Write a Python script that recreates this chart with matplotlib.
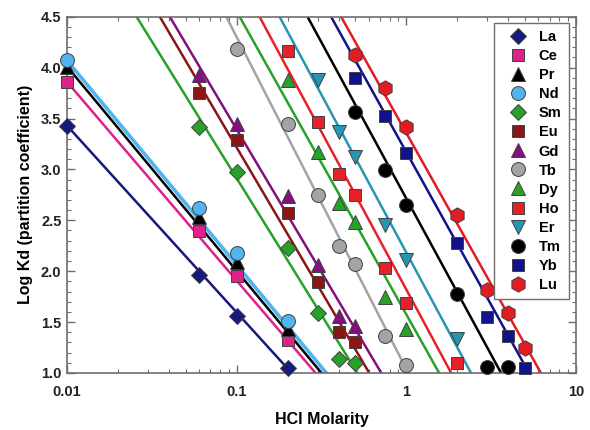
import numpy as np
import matplotlib
matplotlib.use("Agg")
import matplotlib.pyplot as plt
from matplotlib.ticker import MultipleLocator, LogLocator, NullFormatter

plt.rcParams['font.family'] = ['Liberation Sans', 'DejaVu Sans']

# ---- data (HCl molarity, log Kd) ----
elements = ["La", "Ce", "Pr", "Nd", "Sm", "Eu", "Gd", "Tb", "Dy", "Ho", "Er", "Tm", "Yb", "Lu"]

La_x = [0.01, 0.06, 0.1, 0.2]
La_y = [3.43, 1.96, 1.56, 1.05]
Ce_x = [0.01, 0.06, 0.1, 0.2]
Ce_y = [3.86, 2.39, 1.95, 1.32]
Pr_x = [0.01, 0.06, 0.1, 0.2]
Pr_y = [4.01, 2.53, 2.09, 1.43]
Nd_x = [0.01, 0.06, 0.1, 0.2]
Nd_y = [4.07, 2.62, 2.18, 1.51]
Sm_x = [0.06, 0.1, 0.2, 0.3, 0.4, 0.5]
Sm_y = [3.42, 2.97, 2.23, 1.59, 1.14, 1.10]
Eu_x = [0.06, 0.1, 0.2, 0.3, 0.4, 0.5]
Eu_y = [3.75, 3.29, 2.57, 1.89, 1.40, 1.30]
Gd_x = [0.06, 0.1, 0.2, 0.3, 0.4, 0.5]
Gd_y = [3.93, 3.45, 2.74, 2.06, 1.56, 1.46]
Tb_x = [0.1, 0.2, 0.3, 0.4, 0.5, 0.75, 1.0]
Tb_y = [4.18, 3.45, 2.75, 2.25, 2.07, 1.36, 1.08]
Dy_x = [0.2, 0.3, 0.4, 0.5, 0.75, 1.0]
Dy_y = [3.88, 3.17, 2.67, 2.48, 1.75, 1.43]
Ho_x = [0.2, 0.3, 0.4, 0.5, 0.75, 1.0, 2.0]
Ho_y = [4.16, 3.47, 2.95, 2.75, 2.03, 1.69, 1.10]
Er_x = [0.3, 0.4, 0.5, 0.75, 1.0, 2.0]
Er_y = [3.88, 3.37, 3.12, 2.45, 2.11, 1.33]
Tm_x = [0.5, 0.75, 1.0, 2.0, 3.0, 4.0]
Tm_y = [3.56, 2.99, 2.65, 1.78, 1.06, 1.06]
Yb_x = [0.5, 0.75, 1.0, 2.0, 3.0, 4.0, 5.0]
Yb_y = [3.90, 3.52, 3.16, 2.28, 1.55, 1.36, 1.05]
Lu_x = [0.5, 0.75, 1.0, 2.0, 3.0, 4.0, 5.0]
Lu_y = [4.12, 3.80, 3.42, 2.55, 1.82, 1.59, 1.25]

# fitted lines: logKd = intercept + slope * log10(HCl)
fit_slope = [-1.835, -1.952, -2.007, -2.008, -2.688, -2.834, -2.807,
             -3.262, -2.976, -3.097, -3.100, -3.067, -2.999, -2.971]
fit_intercept = [-0.240, -0.044, -0.003, 0.054, 0.226, 0.382, 0.587,
                 1.039, 1.577, 1.821, 2.184, 2.715, 3.171, 3.359]

xs = [La_x, Ce_x, Pr_x, Nd_x, Sm_x, Eu_x, Gd_x, Tb_x, Dy_x, Ho_x, Er_x, Tm_x, Yb_x, Lu_x]
ys = [La_y, Ce_y, Pr_y, Nd_y, Sm_y, Eu_y, Gd_y, Tb_y, Dy_y, Ho_y, Er_y, Tm_y, Yb_y, Lu_y]

colors = ["#16197e", "#e0218a", "#000000", "#4fb4f0", "#27a127", "#8a1616",
          "#82107f", "#a3a3a8", "#27a127", "#e8202a", "#2796b3", "#000000",
          "#12128a", "#e31b23"]
markers = ["D", "s", "^", "o", "D", "s", "^", "o", "^", "s", "v", "o", "s", "h"]
msizes = [8.5, 9, 10, 10, 8.5, 9, 10, 10, 10, 9, 10, 10, 9, 11]

fig = plt.figure(figsize=(5.9, 4.3), dpi=100)
ax = fig.add_axes([0.1136, 0.1326, 0.8624, 0.8285])

xline = np.logspace(-2.2, 1.2, 200)
for el, k, b, c in zip(elements, fit_slope, fit_intercept, colors):
    lw = 2.6 if el == "Nd" else 1.8
    ax.plot(xline, b + k * np.log10(xline), color=c, lw=lw, zorder=2)

handles = []
for el, x, y, c, m, ms in zip(elements, xs, ys, colors, markers, msizes):
    h, = ax.plot(x, y, linestyle="none", marker=m, ms=ms, mfc=c,
                 mec="#404040", mew=0.7, zorder=3, label=el, clip_on=False)
    handles.append(h)

ax.set_xscale("log")
ax.set_xlim(0.01, 10)
ax.set_ylim(1.0, 4.5)
ax.set_xticks([0.01, 0.1, 1, 10])
ax.set_xticklabels(["0.01", "0.1", "1", "10"])
ax.xaxis.set_minor_locator(LogLocator(base=10, subs=np.arange(2, 10)))
ax.xaxis.set_minor_formatter(NullFormatter())
ax.yaxis.set_minor_locator(MultipleLocator(0.1))
ax.set_yticks(np.arange(1.0, 4.51, 0.5))
ax.set_yticklabels([f"{v:.1f}" for v in np.arange(1.0, 4.51, 0.5)])

for s in ax.spines.values():
    s.set_color("#6e6e6e")
    s.set_linewidth(1.2)
ax.tick_params(which="both", direction="in", top=True, right=True, color="#6e6e6e")
ax.tick_params(which="major", length=6, width=1.0, labelsize=10.5)
ax.tick_params(axis="x", which="major", pad=9)
ax.tick_params(axis="y", which="major", pad=4)
ax.tick_params(which="minor", length=3, width=0.8)
for lab in ax.get_xticklabels() + ax.get_yticklabels():
    lab.set_fontweight("bold")
    lab.set_color("#222222")

ax.set_xlabel("HCl Molarity", fontsize=11.5, fontweight="bold", labelpad=9)
ax.set_ylabel("Log Kd (partition coefficient)", fontsize=11.5, fontweight="bold", labelpad=6)

leg = ax.legend(handles=handles, loc="upper right",
                bbox_to_anchor=((569 - 67) / 509, 1 - (23 - 16.7) / 356),
                borderaxespad=0.0, frameon=True, fancybox=False,
                prop={"weight": "bold", "size": 10.5},
                handletextpad=0.35, labelspacing=0.345, borderpad=0.5, handlelength=2.2,
                markerscale=1.0)
leg.get_frame().set_edgecolor("#6e6e6e")
leg.get_frame().set_linewidth(1.0)
leg.get_frame().set_alpha(1.0)
leg.set_zorder(5)

fig.savefig("out.png", dpi=100)
